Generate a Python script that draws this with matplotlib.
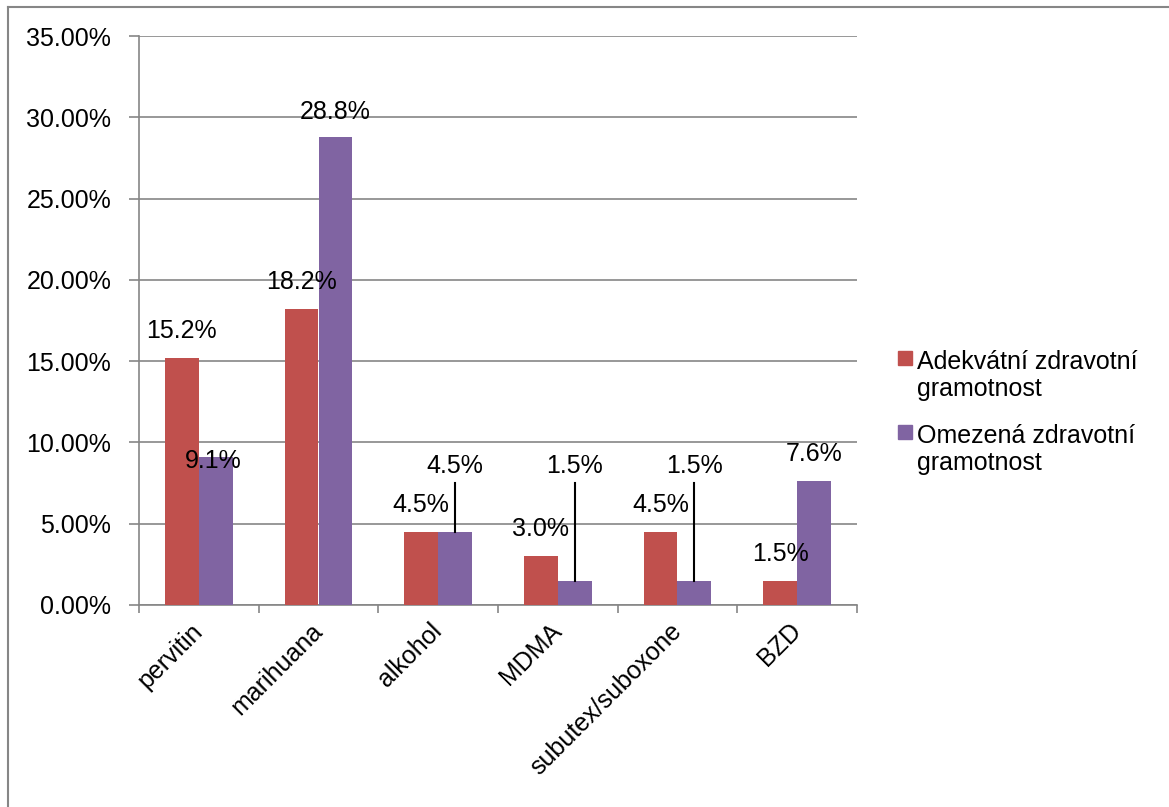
import matplotlib.pyplot as plt
import numpy as np
from matplotlib.lines import Line2D
from matplotlib.patches import Rectangle

categories = ["pervitin", "marihuana", "alkohol", "MDMA", "subutex/suboxone", "BZD"]
adekvatni = [15.2, 18.2, 4.5, 3.0, 4.5, 1.5]
omezena = [9.1, 28.8, 4.5, 1.5, 1.5, 7.6]
series_names = ["Adekvátní zdravotní\ngramotnost", "Omezená zdravotní\ngramotnost"]
y_ticks = [0, 5, 10, 15, 20, 25, 30, 35]

RED = "#C0504D"
PURPLE = "#8064A2"
GRID = "#868686"
FS = 18

plt.rcParams["font.family"] = ["Liberation Sans", "DejaVu Sans"]

fig = plt.figure(figsize=(11.69, 8.07), dpi=100)
W, H = 1169, 807
ax = fig.add_axes([139 / W, 1 - 605 / H, (857 - 139) / W, (605 - 36) / H])

x = np.arange(len(categories))
bw = 0.283
ax.bar(x - bw / 2, adekvatni, bw, color=RED, zorder=3)
ax.bar(x + bw / 2, omezena, bw, color=PURPLE, zorder=3)

ax.set_xlim(-0.5, len(categories) - 0.5)
ax.set_ylim(0, 35)
ax.set_yticks(y_ticks)
ax.set_yticklabels([f"{v:.2f}%" for v in y_ticks], fontsize=FS)
ax.yaxis.grid(True, color=GRID, linewidth=1.2, zorder=0)
ax.set_axisbelow(True)

ax.set_xticks(np.arange(len(categories) + 1) - 0.5, minor=False)
ax.set_xticklabels([])
ax.set_xticks(x, minor=True)
ax.set_xticklabels(categories, minor=True, rotation=45, ha="right",
                   rotation_mode="anchor", va="center", fontsize=FS)
ax.tick_params(axis="x", which="minor", length=0, pad=16)
ax.tick_params(axis="x", which="major", length=6, color=GRID, width=1.2)
ax.tick_params(axis="y", length=7, color=GRID, width=1.2, pad=13)

for s in ["top", "right"]:
    ax.spines[s].set_visible(False)
for s in ["left", "bottom"]:
    ax.spines[s].set_color(GRID)
    ax.spines[s].set_linewidth(1.2)

# value labels: (dx, dy) offsets of label centre from bar top, in data units
red_off = [(0.0, 1.66)] * len(categories)
purple_off = [(-0.025, -0.23), (0.0, 1.55), (0.0, 4.06), (0.0, 7.06), (0.0, 7.06), (0.0, 1.66)]
leader = [False, False, True, True, True, False]

for i in range(len(categories)):
    xr = x[i] - bw / 2
    xp = x[i] + bw / 2
    ax.text(xr + red_off[i][0], adekvatni[i] + red_off[i][1], f"{adekvatni[i]:.1f}%",
            ha="center", va="center", fontsize=FS, zorder=5)
    ty = omezena[i] + purple_off[i][1]
    tx = xp + purple_off[i][0]
    ax.text(tx, ty, f"{omezena[i]:.1f}%", ha="center", va="center", fontsize=FS, zorder=5)
    if leader[i]:
        ax.plot([xp, xp], [ty - 1.05, omezena[i]], color="black", lw=1.5, zorder=4)

# legend: square marker beside the first line of each two-line entry
for name, col, first_base in zip(series_names, [RED, PURPLE], [366, 440]):
    fig.add_artist(Rectangle((898 / W, 1 - (first_base - 1) / H), 14 / W, 14 / H,
                             color=col, transform=fig.transFigure))
    # baseline alignment of multi-line text refers to the last line
    fig.text(917 / W, 1 - (first_base + 30) / H, name, ha="left", va="baseline",
             fontsize=FS, linespacing=1.18)

# chart frame
fig.add_artist(Line2D([8 / W, 8 / W], [0, 1 - 7 / H], color=GRID, lw=1.5))
fig.add_artist(Line2D([8 / W, 1], [1 - 7 / H, 1 - 7 / H], color=GRID, lw=1.5))

fig.savefig("out.png", dpi=100)
